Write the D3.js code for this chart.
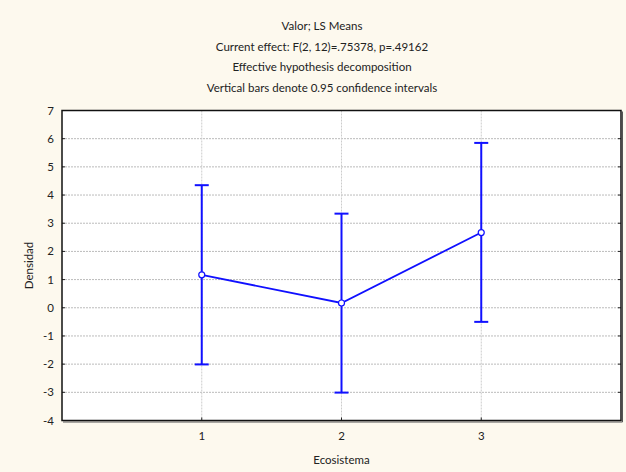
<!DOCTYPE html>
<html>
<head>
<meta charset="utf-8">
<script src="https://d3js.org/d3.v7.min.js"></script>
<style>
  body { margin: 0; background: #fdf9ee; }
  text { font-family: Lato, "Open Sans", sans-serif; fill: #222; }
</style>
</head>
<body>
<script>
// data
const categories = [1, 2, 3];
const means = [1.17, 0.17, 2.67];
const lower = [-2.01, -3.01, -0.50];
const upper = [4.35, 3.34, 5.85];
const yTicks = [-4, -3, -2, -1, 0, 1, 2, 3, 4, 5, 6, 7];
const titleLines = [
  'Valor; LS Means',
  'Current effect: F(2, 12)=.75378, p=.49162',
  'Effective hypothesis decomposition',
  'Vertical bars denote 0.95 confidence intervals'
];

const width = 626, height = 472;
const pLeft = 62, pRight = 621, pTop = 110.5, pBottom = 420.5;

const svg = d3.select('body').append('svg')
  .attr('width', width).attr('height', height);

svg.append('rect').attr('width', width).attr('height', height).attr('fill', '#fdf9ee');

const x = d3.scaleLinear().domain([0, 4]).range([pLeft, pRight]);
const y = d3.scaleLinear().domain([-4, 7]).range([pBottom, pTop]);

// plot area
svg.append('rect')
  .attr('x', pLeft).attr('y', pTop)
  .attr('width', pRight - pLeft).attr('height', pBottom - pTop)
  .attr('fill', '#fff');

// grid
svg.append('g').selectAll('line')
  .data(yTicks.slice(1, -1))
  .join('line')
  .attr('x1', pLeft).attr('x2', pRight)
  .attr('y1', d => y(d)).attr('y2', d => y(d))
  .attr('stroke', '#bbb').attr('stroke-dasharray', '2,1');

svg.append('g').selectAll('line')
  .data(categories)
  .join('line')
  .attr('x1', d => x(d)).attr('x2', d => x(d))
  .attr('y1', pTop).attr('y2', pBottom)
  .attr('stroke', '#ccc').attr('stroke-dasharray', '2,1');

// tick marks inside frame
const tk = svg.append('g').attr('stroke', '#222');
tk.selectAll('.yl').data(yTicks).join('line').attr('class', 'yl')
  .attr('x1', pLeft).attr('x2', pLeft + 3)
  .attr('y1', d => y(d)).attr('y2', d => y(d));
tk.selectAll('.yr').data(yTicks).join('line').attr('class', 'yr')
  .attr('x1', pRight - 3).attr('x2', pRight)
  .attr('y1', d => y(d)).attr('y2', d => y(d));
tk.selectAll('.xb').data(categories).join('line').attr('class', 'xb')
  .attr('x1', d => x(d)).attr('x2', d => x(d))
  .attr('y1', pBottom).attr('y2', pBottom - 3);

// frame
svg.append('rect')
  .attr('x', pLeft).attr('y', pTop)
  .attr('width', pRight - pLeft).attr('height', pBottom - pTop)
  .attr('fill', 'none').attr('stroke', '#111').attr('stroke-width', 1.5);
svg.append('path')
  .attr('d', `M${pRight + 1.5},${pTop + 1}V${pBottom + 1.5}H${pLeft + 1}`)
  .attr('fill', 'none').attr('stroke', '#555').attr('stroke-width', 1);

// tick labels
svg.append('g').selectAll('text')
  .data(yTicks)
  .join('text')
  .attr('x', pLeft - 8).attr('y', d => y(d) + 4)
  .attr('text-anchor', 'end').attr('font-size', 11.5)
  .text(d => d);

svg.append('g').selectAll('text')
  .data(categories)
  .join('text')
  .attr('x', d => x(d)).attr('y', 440)
  .attr('text-anchor', 'middle').attr('font-size', 11.5)
  .text(d => d);

// axis titles
svg.append('text')
  .attr('x', x(2)).attr('y', 464)
  .attr('text-anchor', 'middle').attr('font-size', 11.5)
  .text('Ecosistema');
svg.append('text')
  .attr('transform', `translate(33,${(pTop + pBottom) / 2}) rotate(-90)`)
  .attr('text-anchor', 'middle').attr('font-size', 11.5)
  .text('Densidad');

// titles
svg.append('g').selectAll('text')
  .data(titleLines)
  .join('text')
  .attr('x', 322).attr('y', (d, i) => 30 + i * 20.5)
  .attr('text-anchor', 'middle').attr('font-size', 11.5)
  .text(d => d);

// error bars
const blue = '#1010ff';
const eb = svg.append('g').attr('stroke', blue).attr('stroke-width', 2).attr('fill', 'none');
categories.forEach((c, i) => {
  eb.append('line')
    .attr('x1', x(c)).attr('x2', x(c))
    .attr('y1', y(lower[i])).attr('y2', y(upper[i]));
  eb.append('line')
    .attr('x1', x(c) - 7).attr('x2', x(c) + 7)
    .attr('y1', y(lower[i])).attr('y2', y(lower[i]));
  eb.append('line')
    .attr('x1', x(c) - 7).attr('x2', x(c) + 7)
    .attr('y1', y(upper[i])).attr('y2', y(upper[i]));
});

// mean line
const line = d3.line().x((d, i) => x(categories[i])).y(d => y(d));
svg.append('path')
  .datum(means)
  .attr('d', line)
  .attr('fill', 'none').attr('stroke', blue).attr('stroke-width', 1.8);

svg.append('g').selectAll('circle')
  .data(means)
  .join('circle')
  .attr('cx', (d, i) => x(categories[i])).attr('cy', d => y(d))
  .attr('r', 3)
  .attr('fill', '#fff').attr('stroke', blue).attr('stroke-width', 1.2);
</script>
</body>
</html>
